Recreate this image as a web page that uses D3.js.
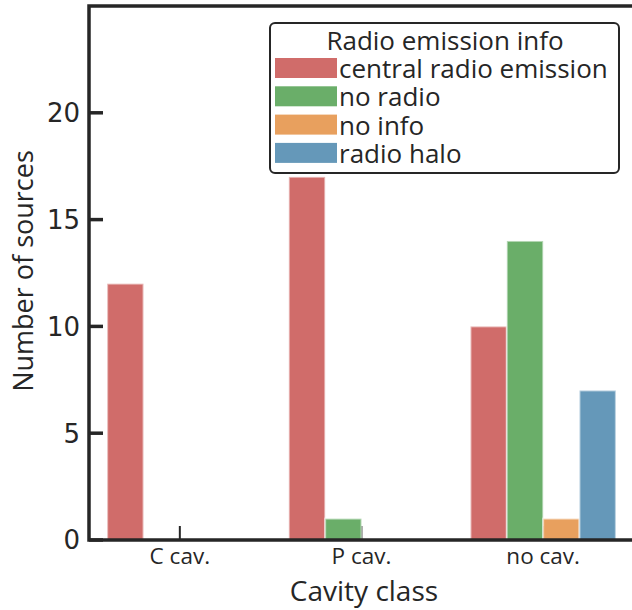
<!DOCTYPE html>
<html>
<head>
<meta charset="utf-8">
<script src="https://cdn.jsdelivr.net/npm/d3@7"></script>
<style>
  html, body { margin: 0; padding: 0; background: #fff; }
  svg { display: block; }
</style>
</head>
<body>
<svg id="chart" width="632" height="610"></svg>
<script>
// Cavity classes on the x axis, radio categories as hue groups
const categories = ["C cav.", "P cav.", "no cav."];
const hues = ["central radio emission", "no radio", "no info", "radio halo"];
const counts = {
  "central radio emission": [12, 17, 10],
  "no radio": [0, 1, 14],
  "no info": [0, 0, 1],
  "radio halo": [0, 0, 7]
};
const yTicks = [0, 5, 10, 15, 20];
const colors = ["#d06c6a", "#6aae69", "#e8a05e", "#6598b9"];

const svg = d3.select("#chart");
const sans = "'Open Sans', Lato, sans-serif";
const dv = "'DejaVu Sans', sans-serif";
const ink = "#262626";

const m = { left: 89, right: 634, top: 6, bottom: 540 };

// Category axis runs from -0.5 to n-0.5, like a seaborn countplot
const x = d3.scaleLinear().domain([-0.5, categories.length - 0.5]).range([m.left, m.right]);
const y = d3.scaleLinear().domain([0, 25]).range([m.bottom, m.top]);
const color = d3.scaleOrdinal().domain(hues).range(colors);

const groupWidth = 0.8;
const barW = groupWidth / hues.length;

// Category ticks (inside, pointing up)
svg.append("g").selectAll("line").data(categories).join("line")
  .attr("x1", (d, i) => x(i)).attr("x2", (d, i) => x(i))
  .attr("y1", m.bottom).attr("y2", m.bottom - 14)
  .attr("stroke", ink).attr("stroke-width", 2);

// Bars
const rows = [];
hues.forEach((h, j) => {
  counts[h].forEach((v, i) => rows.push({ h, j, i, v }));
});
svg.append("g").selectAll("rect").data(rows.filter(r => r.v > 0)).join("rect")
  .attr("x", d => x(d.i - groupWidth / 2 + d.j * barW))
  .attr("width", x(barW) - x(0))
  .attr("y", d => y(d.v))
  .attr("height", d => y(0) - y(d.v))
  .attr("fill", d => color(d.h))
  .attr("stroke", "#fff").attr("stroke-opacity", 0.5).attr("stroke-width", 2);

// Y axis ticks (inside)
svg.append("g").selectAll("line").data(yTicks).join("line")
  .attr("x1", m.left).attr("x2", m.left + 14)
  .attr("y1", d => y(d)).attr("y2", d => y(d))
  .attr("stroke", ink).attr("stroke-width", 3.5);

svg.append("g").selectAll("text").data(yTicks).join("text")
  .attr("x", m.left - 9).attr("y", d => y(d))
  .attr("dy", "0.36em")
  .attr("text-anchor", "end")
  .attr("font-family", dv).attr("font-size", 26)
  .attr("fill", ink)
  .text(d => d);

// Spines
svg.append("path")
  .attr("d", `M${m.right},${m.top}H${m.left}V${m.bottom}H${m.right}`)
  .attr("fill", "none").attr("stroke", ink).attr("stroke-width", 3.5);

// Category labels
svg.append("g").selectAll("text").data(categories).join("text")
  .attr("x", (d, i) => x(i)).attr("y", 564)
  .attr("text-anchor", "middle")
  .attr("font-family", sans).attr("font-size", 22.5)
  .attr("fill", ink)
  .text(d => d);

// Axis titles
svg.append("text")
  .attr("x", 364).attr("y", 601)
  .attr("text-anchor", "middle")
  .attr("font-family", sans).attr("font-size", 28)
  .attr("fill", ink)
  .text("Cavity class");

svg.append("text")
  .attr("transform", `translate(33,271) rotate(-90)`)
  .attr("text-anchor", "middle")
  .attr("font-family", sans).attr("font-size", 27)
  .attr("fill", ink)
  .text("Number of sources");

// Legend
const lg = svg.append("g");
lg.append("rect")
  .attr("x", 270).attr("y", 23).attr("width", 349).attr("height", 150)
  .attr("rx", 5).attr("fill", "#fff")
  .attr("stroke", ink).attr("stroke-width", 2);
lg.append("text")
  .attr("x", 445).attr("y", 50)
  .attr("text-anchor", "middle")
  .attr("font-family", sans).attr("font-size", 26)
  .attr("fill", ink)
  .text("Radio emission info");
const item = lg.selectAll("g.item").data(hues).join("g")
  .attr("class", "item")
  .attr("transform", (d, i) => `translate(275,${58 + i * 28.3})`);
item.append("rect")
  .attr("width", 62).attr("height", 20)
  .attr("fill", d => color(d));
item.append("text")
  .attr("x", 64).attr("y", 20)
  .attr("font-family", sans).attr("font-size", 26)
  .attr("fill", ink)
  .text(d => d);
</script>
</body>
</html>
